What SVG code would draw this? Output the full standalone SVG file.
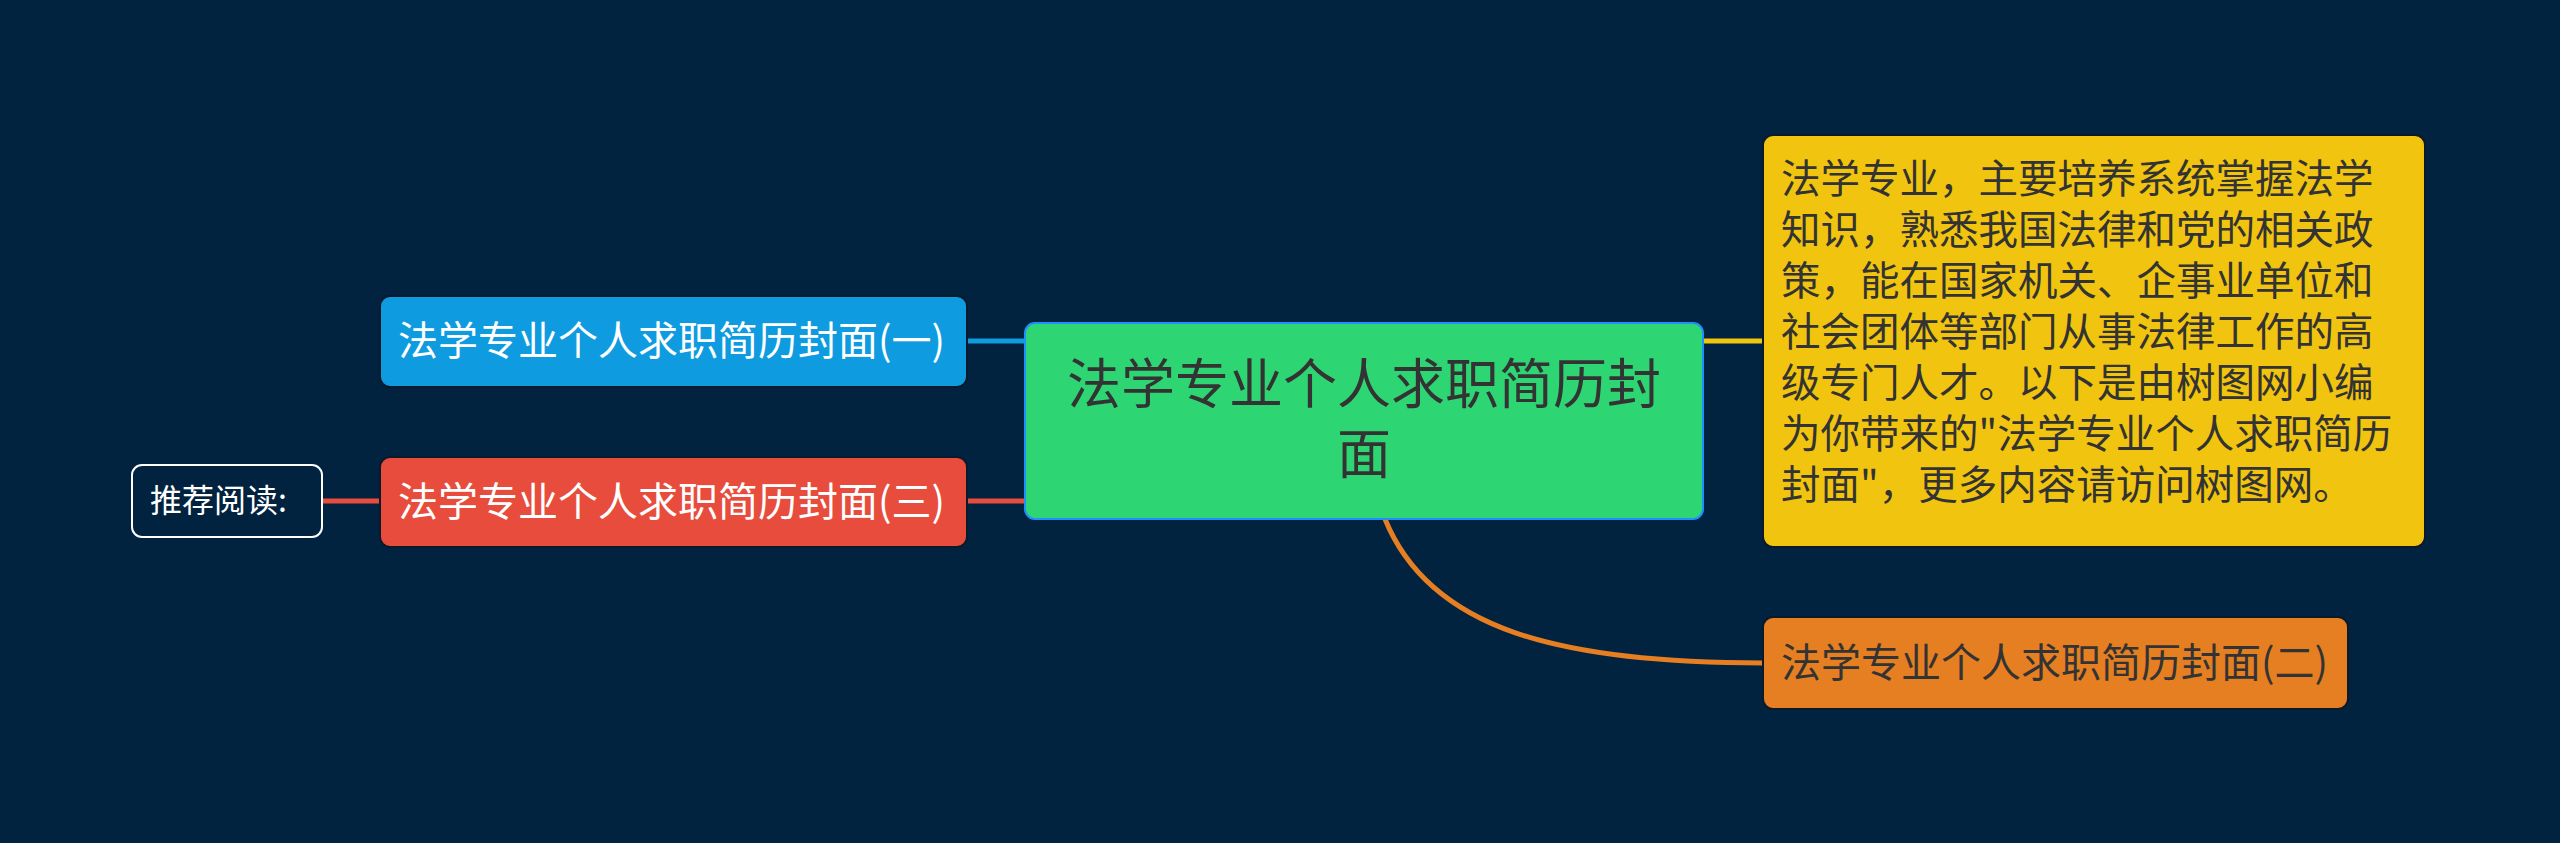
<svg xmlns="http://www.w3.org/2000/svg" width="2560" height="843" viewBox="0 0 2560 843">
<style>
text{font-family:"Noto Sans CJK SC","Liberation Sans",sans-serif}
.n{stroke:#0a1a2a;stroke-width:2}
.w{fill:#ffffff;font-size:40px}
.k{fill:#333333;font-size:40px}
.d{fill:#333333;font-size:39.5px}
</style>
<rect width="2560" height="843" fill="#012340"/>
<g id="connectors" fill="none" stroke-width="5">
<line x1="1025" y1="341" x2="967" y2="341" stroke="#0e9bdf"/>
<line x1="1025" y1="501" x2="967" y2="501" stroke="#e74c3c"/>
<line x1="380" y1="501" x2="322" y2="501" stroke="#e74c3c"/>
<line x1="1703" y1="341" x2="1763" y2="341" stroke="#f1c40f"/>
<path d="M1385 519 C1430 630 1560 663 1763 663" stroke="#e67e22"/>
</g>
<g id="center">
<rect x="1025" y="323" width="678" height="196" rx="10" fill="#2ed573" stroke="#1e90ff" stroke-width="2"/>
<text x="1364" y="404" text-anchor="middle" font-size="54" fill="#333333">法学专业个人求职简历封</text>
<text x="1364" y="474" text-anchor="middle" font-size="54" fill="#333333">面</text>
</g>
<g id="n1">
<rect class="n" x="380" y="296" width="587" height="91" rx="10" fill="#0e9bdf"/>
<text class="w" x="398" y="355">法学专业个人求职简历封面(一)</text>
</g>
<g id="n3">
<rect class="n" x="380" y="457" width="587" height="90" rx="10" fill="#e74c3c"/>
<text class="w" x="398" y="516">法学专业个人求职简历封面(三)</text>
</g>
<g id="rec">
<rect x="132" y="465" width="190" height="72" rx="10" fill="#012340" stroke="#ffffff" stroke-width="2"/>
<text x="150" y="512" font-size="32" fill="#ffffff">推荐阅读:</text>
</g>
<g id="desc">
<rect class="n" x="1763" y="135" width="662" height="412" rx="10" fill="#f1c40f"/>
<text class="d" x="1781" y="193">法学专业，主要培养系统掌握法学</text>
<text class="d" x="1781" y="244">知识，熟悉我国法律和党的相关政</text>
<text class="d" x="1781" y="295">策，能在国家机关、企事业单位和</text>
<text class="d" x="1781" y="346">社会团体等部门从事法律工作的高</text>
<text class="d" x="1781" y="397">级专门人才。以下是由树图网小编</text>
<text class="d" x="1781" y="448">为你带来的"法学专业个人求职简历</text>
<text class="d" x="1781" y="499">封面"，更多内容请访问树图网。</text>
</g>
<g id="n2">
<rect class="n" x="1763" y="617" width="585" height="92" rx="10" fill="#e67e22"/>
<text class="k" x="1781" y="677">法学专业个人求职简历封面(二)</text>
</g>
</svg>
